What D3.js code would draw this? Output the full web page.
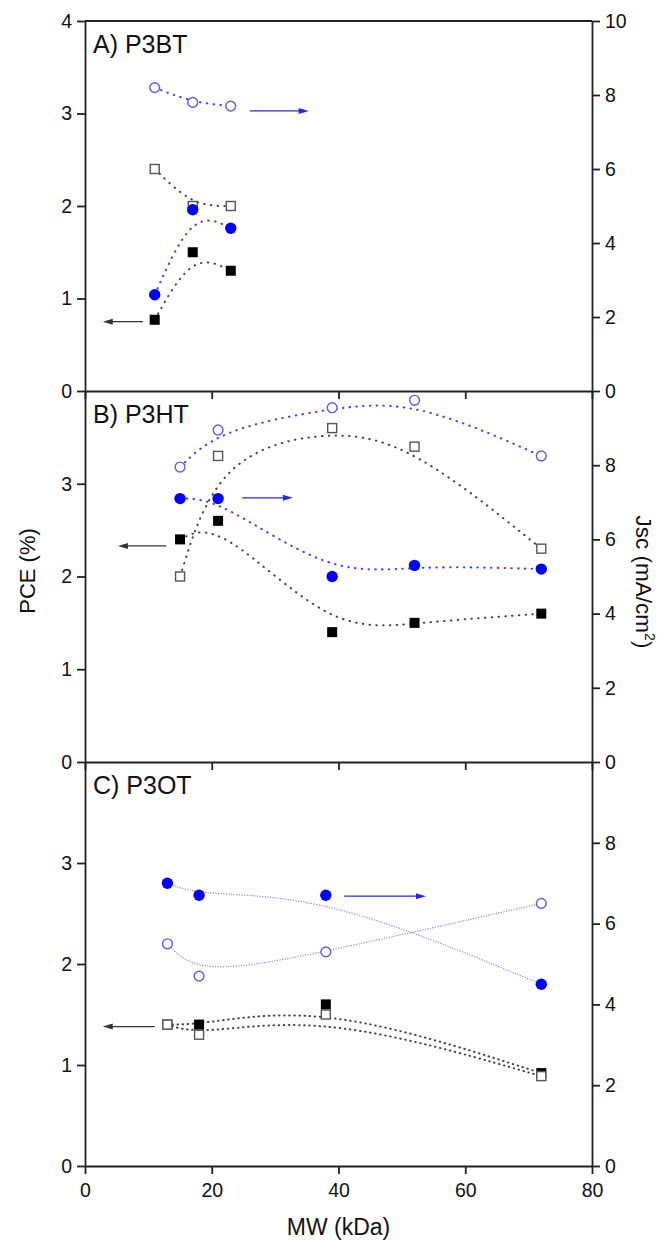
<!DOCTYPE html>
<html lang="en">
  <head>
    <meta charset="utf-8" />
    <script type="text/javascript" src="https://cdn.jsdelivr.net/npm/d3@7"></script>
    <style>
      body { margin: 0; background: #fff; }
      text { font-family: "Liberation Sans", Arial, sans-serif; fill: #111; }
    </style>
  </head>

  <body>
    <script type="text/javascript">
      // molecular weight (kDa) per polymer
      let mwA = [11, 17, 23];
      let mwB = [15, 21, 39, 52, 72];
      let mwC = [13, 18, 38, 72];

      // PCE (%) - squares, left axis
      let pceFilledA = [0.77, 1.5, 1.3];
      let pceOpenA = [2.4, 2.0, 2.0];
      let pceFilledB = [2.4, 2.6, 1.4, 1.5, 1.6];
      let pceOpenB = [2.0, 3.3, 3.6, 3.4, 2.3];
      let pceFilledC = [1.4, 1.4, 1.6, 0.92];
      let pceOpenC = [1.4, 1.3, 1.5, 0.89];

      // Jsc (mA/cm2) - circles, right axis
      let jscFilledA = [2.6, 4.9, 4.4];
      let jscOpenA = [8.2, 7.8, 7.7];
      let jscFilledB = [7.1, 7.1, 5.0, 5.3, 5.2];
      let jscOpenB = [7.95, 8.95, 9.55, 9.75, 8.25];
      let jscFilledC = [7.0, 6.7, 6.7, 4.5];
      let jscOpenC = [5.5, 4.7, 5.3, 6.5];

      let xTicks = [0, 20, 40, 60, 80];

      // axis pointer arrows: [x from, x to, value] in data units
      let pceArrows = [[9.15, 2.8, 0.75], [12.8, 5.2, 2.33], [11.0, 2.8, 1.38]];
      let jscArrows = [[26.0, 35.3, 7.57], [24.8, 32.8, 7.12], [40.9, 53.8, 6.68]];

      let w = 664;
      let h = 1241;

      let svg = d3
        .select("body")
        .append("svg")
        .attr("width", w)
        .attr("height", h);

      let x = d3.scaleLinear().domain([0, 80]).range([85, 592]);

      let panels = [
        { label: "A) P3BT", top: 21, bottom: 391, mw: mwA,
          pf: pceFilledA, po: pceOpenA, jf: jscFilledA, jo: jscOpenA,
          left: [0, 1, 2, 3, 4], right: [0, 2, 4, 6, 8, 10], fine: false },
        { label: "B) P3HT", top: 391, bottom: 762, mw: mwB,
          pf: pceFilledB, po: pceOpenB, jf: jscFilledB, jo: jscOpenB,
          left: [0, 1, 2, 3], right: [0, 2, 4, 6, 8], fine: false },
        { label: "C) P3OT", top: 762, bottom: 1166, mw: mwC,
          pf: pceFilledC, po: pceOpenC, jf: jscFilledC, jo: jscOpenC,
          left: [0, 1, 2, 3], right: [0, 2, 4, 6, 8], fine: true },
      ];

      function arrow(g, x1, x2, yy, color) {
        let dir = x2 > x1 ? 1 : -1;
        g.append("line")
          .attr("x1", x1).attr("x2", x2 - dir * 8)
          .attr("y1", yy).attr("y2", yy)
          .attr("stroke", color).attr("stroke-width", 1.4);
        g.append("path")
          .attr("d", `M${x2},${yy} L${x2 - dir * 10},${yy - 3} L${x2 - dir * 10},${yy + 3} Z`)
          .attr("fill", color);
      }

      panels.forEach((p, pi) => {
        let yL = d3.scaleLinear().domain([0, 4]).range([p.bottom, p.top]);
        let yR = d3.scaleLinear().domain([0, 10]).range([p.bottom, p.top]);
        let g = svg.append("g");

        // curves
        let blackDots = p.fine ? "0.5 4.6" : "0.5 6.3";
        let blueStyle = p.fine
          ? { color: "#7d7dff", width: 1.1, dash: "1.2 1.4", cap: "butt" }
          : { color: "#4646ff", width: 2.1, dash: "0.5 6.3", cap: "round" };

        [p.pf, p.po].forEach((vals) => {
          let line = d3.line().curve(d3.curveBasis)
            .x((d, i) => x(p.mw[i])).y((d) => yL(d));
          g.append("path").attr("d", line(vals))
            .attr("fill", "none").attr("stroke", "#444")
            .attr("stroke-width", 2).attr("stroke-linecap", "round")
            .attr("stroke-dasharray", blackDots);
        });
        [p.jf, p.jo].forEach((vals) => {
          let line = d3.line().curve(d3.curveBasis)
            .x((d, i) => x(p.mw[i])).y((d) => yR(d));
          g.append("path").attr("d", line(vals))
            .attr("fill", "none").attr("stroke", blueStyle.color)
            .attr("stroke-width", blueStyle.width).attr("stroke-linecap", blueStyle.cap)
            .attr("stroke-dasharray", blueStyle.dash);
        });

        // markers
        g.selectAll(".sqf").data(p.pf).join("rect")
          .attr("x", (d, i) => x(p.mw[i]) - 5).attr("y", (d) => yL(d) - 5)
          .attr("width", 10).attr("height", 10).attr("fill", "#000");
        g.selectAll(".sqo").data(p.po).join("rect")
          .attr("x", (d, i) => x(p.mw[i]) - 4.5).attr("y", (d) => yL(d) - 4.5)
          .attr("width", 9).attr("height", 9)
          .attr("fill", "#fff").attr("stroke", "#555").attr("stroke-width", 1.4);
        g.selectAll(".cf").data(p.jf).join("circle")
          .attr("cx", (d, i) => x(p.mw[i])).attr("cy", (d) => yR(d))
          .attr("r", 5.7).attr("fill", "#0000ff");
        g.selectAll(".co").data(p.jo).join("circle")
          .attr("cx", (d, i) => x(p.mw[i])).attr("cy", (d) => yR(d))
          .attr("r", 4.9).attr("fill", "#fff")
          .attr("stroke", "#5a5aff").attr("stroke-width", 1.4);

        // arrows
        let a = pceArrows[pi];
        arrow(g, x(a[0]), x(a[1]), yL(a[2]), "#333");
        let b = jscArrows[pi];
        arrow(g, x(b[0]), x(b[1]), yR(b[2]), "#2626ff");

        // axes
        let ax = svg.append("g");
        let left = ax.append("g").attr("transform", `translate(${x(0)},0)`)
          .call(d3.axisLeft(yL).tickValues(p.left).tickSize(8).tickSizeOuter(0)
            .tickPadding(5).tickFormat(d3.format("d")));
        let right = ax.append("g").attr("transform", `translate(${x(80)},0)`)
          .call(d3.axisRight(yR).tickValues(p.right).tickSize(8).tickSizeOuter(0)
            .tickPadding(5).tickFormat(d3.format("d")));
        let bottom = ax.append("g").attr("transform", `translate(0,${p.bottom})`)
          .call(d3.axisBottom(x).tickValues(xTicks).tickSize(8).tickSizeOuter(0).tickPadding(9)
            .tickFormat(pi === 2 ? d3.format("d") : () => ""));
        [left, right, bottom].forEach((s) => {
          s.selectAll("path, line").attr("stroke", "#222").attr("stroke-width", 1.8);
          s.selectAll("text").attr("font-size", 19.5).attr("fill", "#111")
            .attr("font-family", '"Liberation Sans", Arial, sans-serif');
        });
        if (pi === 0) {
          ax.append("line").attr("x1", x(0)).attr("x2", x(80))
            .attr("y1", p.top).attr("y2", p.top)
            .attr("stroke", "#222").attr("stroke-width", 1.8);
        }

        svg.append("text").attr("x", 93).attr("y", p.top + 32)
          .attr("font-size", 25).text(p.label);
      });

      svg.append("text")
        .attr("transform", "translate(35,571) rotate(-90)")
        .attr("text-anchor", "middle").attr("font-size", 22)
        .text("PCE (%)");

      let jt = svg.append("text")
        .attr("transform", "translate(636,582) rotate(90)")
        .attr("text-anchor", "middle").attr("font-size", 22.5);
      jt.append("tspan").text("Jsc (mA/cm");
      jt.append("tspan").attr("font-size", 14).attr("dy", -9).text("2");
      jt.append("tspan").attr("dy", 9).text(")");

      svg.append("text")
        .attr("x", x(40)).attr("y", 1235)
        .attr("text-anchor", "middle").attr("font-size", 23)
        .text("MW (kDa)");
    </script>
  </body>
</html>
